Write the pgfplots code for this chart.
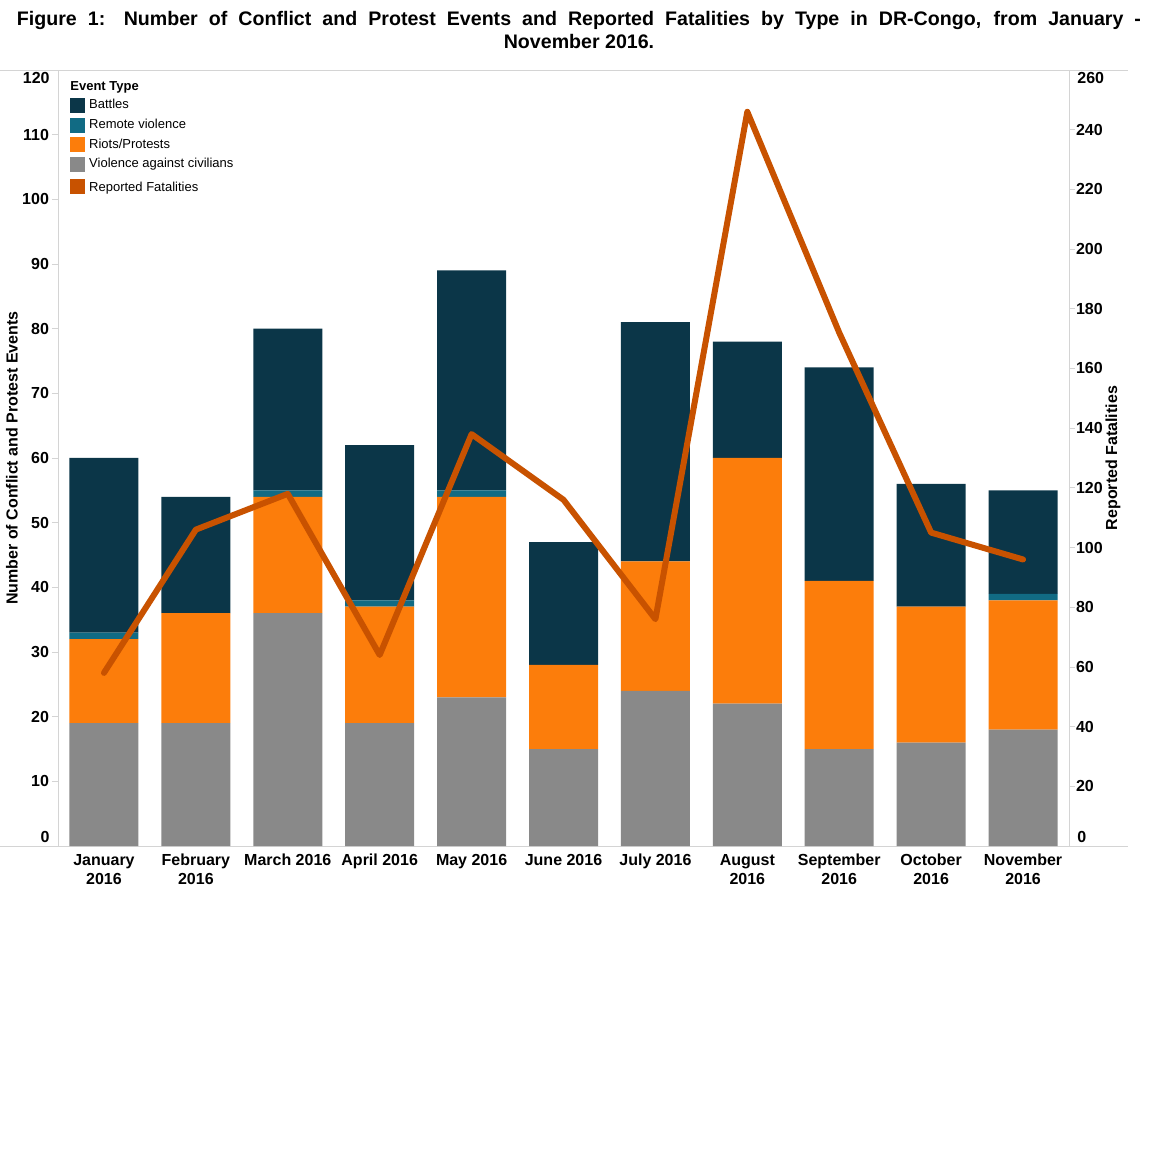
\documentclass[border=0pt]{standalone}
\usepackage{pgfplots}
\usepackage{pgfplotstable}
\pgfplotsset{compat=1.18}
\usepackage{fontspec}
\setmainfont{Liberation Sans}

\definecolor{battles}{HTML}{0B3648}
\definecolor{remote}{HTML}{116B84}
\definecolor{riots}{HTML}{FC7D0B}
\definecolor{vac}{HTML}{898989}
\definecolor{fatal}{HTML}{C85200}
\definecolor{axgray}{HTML}{D4D4D4}

% month  civilians  riots  remote  battles  fatalities
\pgfplotstableread{
x vac riots remote battles fatal
0 19 13 1 27 58
1 19 17 0 18 106
2 36 18 1 25 118
3 19 18 1 24 64
4 23 31 1 34 138
5 15 13 0 19 116
6 24 20 0 37 76
7 22 38 0 18 246
8 15 26 0 33 172
9 16 21 0 19 105
10 18 20 1 16 96
}\data

\pgfplotsset{
  common/.style={
    width=505.5pt, height=388pt, scale only axis,
    xmin=-0.5, xmax=10.5,
    ymin=0,
    axis line style={axgray,-},
    tick style={axgray, thin},
    tick align=outside,
    ticklabel style={font=\fontsize{8}{9.5}\selectfont\bfseries},
    /pgf/number format/assume math mode=true,
    label style={font=\fontsize{8}{9.5}\selectfont\bfseries},
  },
}
\tikzset{endlabel/.style={font=\fontsize{8}{9.5}\selectfont\bfseries, inner sep=0pt}}

\begin{document}
\begin{tikzpicture}
\useasboundingbox (-29pt,-158pt) rectangle (550pt,423pt);

\begin{axis}[common,
  ybar stacked, bar width=34.5pt,
  ymax=120, ytick={10,20,...,110},
  extra y ticks={0,120}, extra y tick labels={},
  axis y line*=left, axis x line*=bottom,
  x axis line style={draw=none},
  major tick length=3pt,
  xtick={0,...,10},
  x tick style={draw=none},
  minor xtick={-0.5,0.5,...,10.5},
  minor x tick style={axgray, thin},
  minor tick length=3pt,
  xticklabels={January\\2016, February\\2016, March 2016, April 2016, May 2016, June 2016, July 2016, August\\2016, September\\2016, October\\2016, November\\2016},
  xticklabel style={align=center, yshift=2.5pt},
  yticklabel style={xshift=2pt},
  ylabel={Number of Conflict and Protest Events},
  ylabel style={at={(axis description cs:-0.0455,0.5)}, anchor=center, rotate=0},
  legend style={at={(rel axis cs:0,1)}, anchor=north west, xshift=6pt, yshift=-12.5pt,
    draw=none, fill=none, inner sep=0pt, row sep=-0.4pt,
    font=\fontsize{6.5}{7.5}\selectfont},
  legend cell align=left,
  legend image code/.code={\fill[#1] (0pt,-3.5pt) rectangle (7pt,3.5pt);},
  clip=false,
]
\addplot[fill=vac, draw=none, forget plot] table[x=x, y=vac] {\data};
\addplot[fill=riots, draw=none, forget plot] table[x=x, y=riots] {\data};
\addplot[fill=remote, draw=none, forget plot] table[x=x, y=remote] {\data};
\addplot[fill=battles, draw=none, forget plot] table[x=x, y=battles] {\data};

\addlegendimage{battles}\addlegendentry{Battles}
\addlegendimage{remote}\addlegendentry{Remote violence}
\addlegendimage{riots}\addlegendentry{Riots/Protests}
\addlegendimage{vac}\addlegendentry{Violence against civilians}
\addlegendimage{fatal}\addlegendentry{\rule{0pt}{7pt}Reported Fatalities}

\draw[axgray, thin] (rel axis cs:-0.0574,0) -- (rel axis cs:1.058,0);
\draw[axgray, thin] (rel axis cs:-0.0574,1) -- (rel axis cs:1.058,1);
\node[anchor=west, inner sep=0pt, font=\fontsize{6.5}{7.5}\selectfont\bfseries]
  at ([xshift=6pt, yshift=-8.5pt]rel axis cs:0,1) {Event Type};
% end labels of both scales, pulled inwards as in the original
\node[endlabel, anchor=east] at ([xshift=-4pt, yshift=4.5pt]rel axis cs:0,0) {0};
\node[endlabel, anchor=east] at ([xshift=-4pt, yshift=-4pt]rel axis cs:0,1) {120};
\node[endlabel, anchor=west] at ([xshift=4pt, yshift=4.5pt]rel axis cs:1,0) {0};
\node[endlabel, anchor=west] at ([xshift=4pt, yshift=-4pt]rel axis cs:1,1) {260};
\end{axis}

\begin{axis}[common,
  ymax=260, ytick={20,40,...,240},
  extra y ticks={0,260}, extra y tick labels={},
  axis y line*=right, axis x line=none,
  major tick length=3pt,
  yticklabel style={xshift=-3pt},
  ylabel={Reported Fatalities},
  ylabel style={at={(axis description cs:1.0435,0.5)}, anchor=center, rotate=0},
]
\addplot[fatal, line width=3pt, line join=round, line cap=round, mark=none]
  table[x=x, y=fatal] {\data};
\end{axis}

\node[anchor=center, inner sep=0pt, font=\fontsize{9.8}{11}\selectfont\bfseries] at (260.5pt,413pt)
  {\makebox[562pt][s]{Figure 1: Number of Conflict and Protest Events and Reported Fatalities by Type in DR-Congo, from January -}};
\node[anchor=center, inner sep=0pt, font=\fontsize{9.8}{11}\selectfont\bfseries] at (260.5pt,402pt)
  {November 2016.};
\end{tikzpicture}
\end{document}
